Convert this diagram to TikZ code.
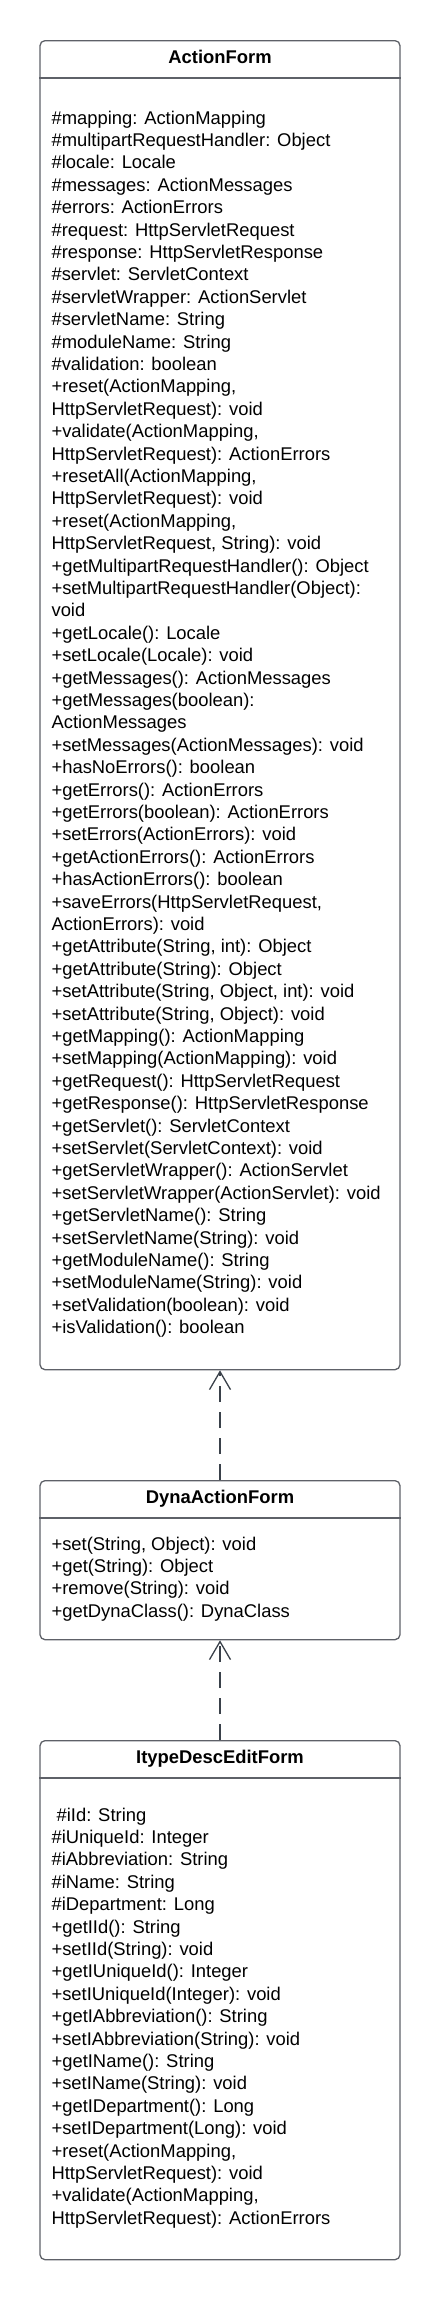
\documentclass[tikz,border=0pt]{standalone}
\usepackage{fontspec}
\setmainfont{Liberation Sans}
\usepackage{xcolor}
\usepackage{tikz}
\usetikzlibrary{arrows.meta,positioning}

\definecolor{umlgray}{HTML}{5E6168}
\definecolor{umlarrow}{HTML}{3A414A}

\begin{document}
\begin{tikzpicture}[
    x=1pt, y=-1pt,
    classbox/.style={rectangle, draw=umlgray, line width=1.3pt, rounded corners=5pt, minimum width=360pt, inner sep=0pt, anchor=north},
    classtitle/.style={anchor=base, inner sep=0pt, font=\fontsize{18.4}{22.4}\selectfont\bfseries},
    classbody/.style={anchor=north west, inner sep=0pt, align=left, font=\fontsize{18.4}{22.4}\selectfont},
    divider/.style={draw=umlgray, line width=1.3pt},
    realize/.style={draw=umlarrow, line width=1.3pt, dash pattern=on 16pt off 10pt, -{Straight Barb[length=18pt, width=21pt]}}
]
    \useasboundingbox (0,0) rectangle (440,2300);

    % ActionForm
    \node[classbox, minimum height=1329pt] (form) at (220,40) {};
    \node[classtitle] (formtitle) at ([yshift=-23pt]form.north) {ActionForm};
    \draw[divider] ([yshift=-38pt]form.north west) -- ([yshift=-38pt]form.north east);
    \node[classbody] (formbody) at ([xshift=12pt, yshift=-70.6pt]form.north west) {\#mapping: ActionMapping\\
\#multipartRequestHandler: Object\\
\#locale: Locale\\
\#messages: ActionMessages\\
\#errors: ActionErrors\\
\#request: HttpServletRequest\\
\#response: HttpServletResponse\\
\#servlet: ServletContext\\
\#servletWrapper: ActionServlet\\
\#servletName: String\\
\#moduleName: String\\
\#validation: boolean\\
+reset(ActionMapping,\\
HttpServletRequest): void\\
+validate(ActionMapping,\\
HttpServletRequest): ActionErrors\\
+resetAll(ActionMapping,\\
HttpServletRequest): void\\
+reset(ActionMapping,\\
HttpServletRequest, String): void\\
+getMultipartRequestHandler(): Object\\
+setMultipartRequestHandler(Object):\\
void\\
+getLocale(): Locale\\
+setLocale(Locale): void\\
+getMessages(): ActionMessages\\
+getMessages(boolean):\\
ActionMessages\\
+setMessages(ActionMessages): void\\
+hasNoErrors(): boolean\\
+getErrors(): ActionErrors\\
+getErrors(boolean): ActionErrors\\
+setErrors(ActionErrors): void\\
+getActionErrors(): ActionErrors\\
+hasActionErrors(): boolean\\
+saveErrors(HttpServletRequest,\\
ActionErrors): void\\
+getAttribute(String, int): Object\\
+getAttribute(String): Object\\
+setAttribute(String, Object, int): void\\
+setAttribute(String, Object): void\\
+getMapping(): ActionMapping\\
+setMapping(ActionMapping): void\\
+getRequest(): HttpServletRequest\\
+getResponse(): HttpServletResponse\\
+getServlet(): ServletContext\\
+setServlet(ServletContext): void\\
+getServletWrapper(): ActionServlet\\
+setServletWrapper(ActionServlet): void\\
+getServletName(): String\\
+setServletName(String): void\\
+getModuleName(): String\\
+setModuleName(String): void\\
+setValidation(boolean): void\\
+isValidation(): boolean};

    % DynaActionForm
    \node[classbox, minimum height=159pt] (dyna) at (220,1480) {};
    \node[classtitle] (dynatitle) at ([yshift=-23pt]dyna.north) {DynaActionForm};
    \draw[divider] ([yshift=-38pt]dyna.north west) -- ([yshift=-38pt]dyna.north east);
    \node[classbody] (dynabody) at ([xshift=12pt, yshift=-56.6pt]dyna.north west) {+set(String, Object): void\\
+get(String): Object\\
+remove(String): void\\
+getDynaClass(): DynaClass};

    % ItypeDescEditForm
    \node[classbox, minimum height=519pt] (itype) at (220,1740) {};
    \node[classtitle] (itypetitle) at ([yshift=-23pt]itype.north) {ItypeDescEditForm};
    \draw[divider] ([yshift=-38pt]itype.north west) -- ([yshift=-38pt]itype.north east);
    \node[classbody] (itypebody) at ([xshift=12pt, yshift=-67.6pt]itype.north west) {\ \#iId: String\\
\#iUniqueId: Integer\\
\#iAbbreviation: String\\
\#iName: String\\
\#iDepartment: Long\\
+getIId(): String\\
+setIId(String): void\\
+getIUniqueId(): Integer\\
+setIUniqueId(Integer): void\\
+getIAbbreviation(): String\\
+setIAbbreviation(String): void\\
+getIName(): String\\
+setIName(String): void\\
+getIDepartment(): Long\\
+setIDepartment(Long): void\\
+reset(ActionMapping,\\
HttpServletRequest): void\\
+validate(ActionMapping,\\
HttpServletRequest): ActionErrors};

    % realizations
    \draw[realize] (dyna.north) -- (form.south);
    \draw[realize] (itype.north) -- (dyna.south);
\end{tikzpicture}
\end{document}
